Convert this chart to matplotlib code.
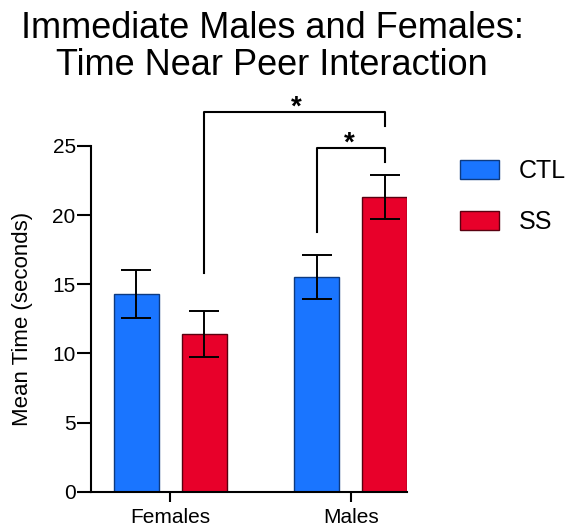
import numpy as np
import matplotlib.pyplot as plt

plt.rcParams['font.family'] = ['Liberation Sans', 'DejaVu Sans']

groups = ['Females', 'Males']
ctl_mean = [14.3, 15.5]
ctl_sem = [1.75, 1.6]
ss_mean = [11.4, 21.3]
ss_sem = [1.65, 1.6]

blue = '#1a75ff'
red = '#e8002a'

fig = plt.figure(figsize=(5.73, 5.27), dpi=100)
ax = fig.add_axes([0.1588, 0.067, 0.5515, 0.656])

x = np.arange(len(groups))
w = 0.249
off = 0.188
ax.bar(x - off, ctl_mean, w, color=blue, edgecolor='#0d3a80', linewidth=1, label='CTL', zorder=2)
ax.bar(x + off, ss_mean, w, color=red, edgecolor='#5a0010', linewidth=1, label='SS', zorder=2)
ax.errorbar(x - off, ctl_mean, yerr=ctl_sem, fmt='none', ecolor='black', elinewidth=1.4, capsize=11, capthick=1.4, zorder=3)
ax.errorbar(x + off, ss_mean, yerr=ss_sem, fmt='none', ecolor='black', elinewidth=1.4, capsize=11, capthick=1.4, zorder=3)

ax.set_xlim(-0.44, 1.312)
ax.set_ylim(0, 25)
ax.set_yticks([0, 5, 10, 15, 20, 25])
ax.set_xticks(x)
ax.set_xticklabels(groups, fontsize=15)
ax.tick_params(axis='y', labelsize=15, length=10, width=1.5, pad=1)
ax.tick_params(axis='x', length=7, width=1.5, pad=5)
for s in ['top', 'right']:
    ax.spines[s].set_visible(False)
for s in ['left', 'bottom']:
    ax.spines[s].set_linewidth(1.5)
ax.set_ylabel('Mean Time (seconds)', fontsize=16, labelpad=14)

# significance brackets
def bracket(x1, y1, x2, y2, top, sx):
    ax.plot([x1, x1, x2, x2], [y1, top, top, y2], color='black', lw=1.5, clip_on=False)
    ax.text(sx, top - 0.6, '*', ha='center', va='bottom', fontsize=20, fontweight='bold')

bracket(0 + off, 15.85, 1 + off, 26.45, 27.45, 0.7)
bracket(1 - off, 18.8, 1 + off, 23.85, 24.85, 0.99)

fig.text(0.475, 0.98, 'Immediate Males and Females:\nTime Near Peer Interaction',
         ha='center', va='top', fontsize=26, linespacing=1.1)

fig.legend(loc='upper left', bbox_to_anchor=(0.764, 0.741), frameon=False, fontsize=18,
           handlelength=1.55, handleheight=0.8, handletextpad=0.8, labelspacing=1.1)

fig.savefig('out.png', dpi=100)
